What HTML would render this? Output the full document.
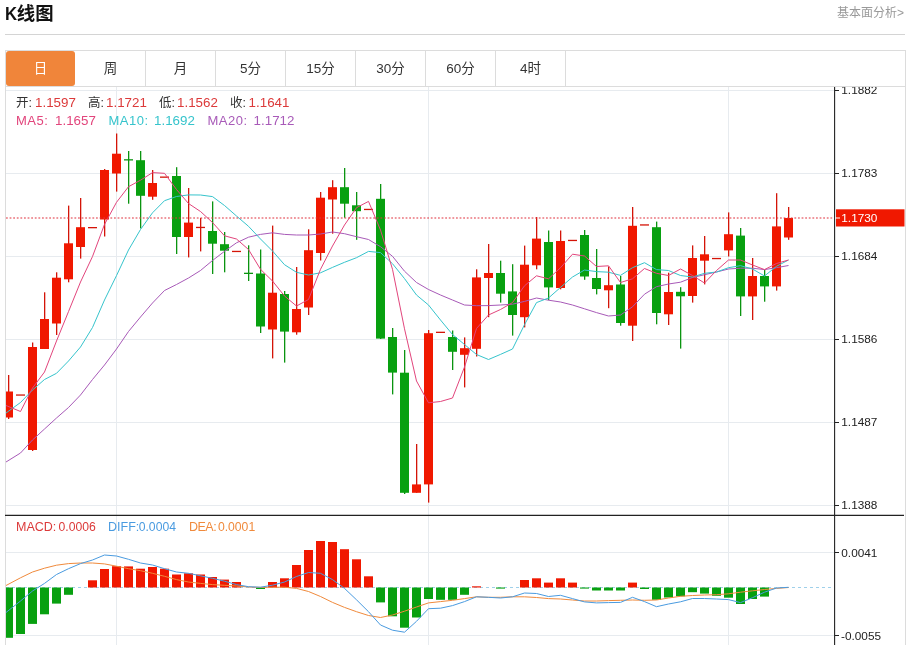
<!DOCTYPE html>
<html lang="zh-CN">
<head>
<meta charset="utf-8">
<title>K线图</title>
<style>
html,body{margin:0;padding:0;background:#fff;}
body{width:909px;height:645px;position:relative;overflow:hidden;font-family:"Liberation Sans","Noto Sans CJK SC",sans-serif;}
.title{position:absolute;left:4.2px;top:1.9px;font-size:18.4px;letter-spacing:.1px;font-weight:bold;color:#111;line-height:24px;white-space:nowrap;}
.more{position:absolute;right:5px;top:4px;font-size:12px;color:#999;line-height:18px;white-space:nowrap;}
.rule{position:absolute;left:5px;top:34px;width:900px;height:1px;background:#d4d4d4;}
.box{position:absolute;left:5px;top:50px;width:899px;height:600px;border:1px solid #dcdcdc;box-sizing:content-box;}
.tabs{position:absolute;left:6px;top:51px;width:899px;height:35px;border-bottom:1px solid #dcdcdc;}
.tab{position:absolute;top:0;width:69px;height:35px;line-height:35px;text-align:center;font-size:13.5px;color:#333;border-right:1px solid #dcdcdc;}
.tab.on{background:#f0853a;color:#fff;border-radius:3px;border-right:0;}
.chart{position:absolute;left:0;top:87px;}
.info{position:absolute;font-size:12.5px;line-height:16px;white-space:nowrap;color:#333;}
.info .n{font-size:13.35px;}
.info .l{font-size:13px;letter-spacing:.5px;}
.info .m{font-size:12.2px;}
.info span{position:absolute;top:0;}
.r{color:#dc3a3a;}
</style>
</head>
<body>
<div class="title"><span style="display:inline-block;transform:scaleX(.91);transform-origin:100% 50%;letter-spacing:-.8px">K</span>线图</div>
<div class="more">基本面分析&gt;</div>
<div class="rule"></div>
<div class="box"></div>
<div class="tabs">
<div class="tab on" style="left:0">日</div>
<div class="tab" style="left:70px">周</div>
<div class="tab" style="left:140px">月</div>
<div class="tab" style="left:210px">5分</div>
<div class="tab" style="left:280px">15分</div>
<div class="tab" style="left:350px">30分</div>
<div class="tab" style="left:420px">60分</div>
<div class="tab" style="left:490px">4时</div>
</div>
<svg class="chart" width="909" height="558" viewBox="0 87 909 558">
<g stroke="#e7ebef" stroke-width="1" shape-rendering="crispEdges">
<line x1="6" y1="90.5" x2="834" y2="90.5"/>
<line x1="6" y1="173.5" x2="834" y2="173.5"/>
<line x1="6" y1="256.5" x2="834" y2="256.5"/>
<line x1="6" y1="339.5" x2="834" y2="339.5"/>
<line x1="6" y1="422.5" x2="834" y2="422.5"/>
<line x1="6" y1="505.5" x2="834" y2="505.5"/>
<line x1="6" y1="552.5" x2="834" y2="552.5"/>
<line x1="6" y1="635.5" x2="834" y2="635.5"/>
<line x1="116.5" y1="87" x2="116.5" y2="645"/>
<line x1="428.5" y1="87" x2="428.5" y2="645"/>
<line x1="728.5" y1="87" x2="728.5" y2="645"/>
</g>
<line x1="6" y1="587.5" x2="832" y2="587.5" stroke="#9fd0ea" stroke-width="1" stroke-dasharray="3,3"/>
<g shape-rendering="crispEdges">
<rect x="8" y="375.0" width="1.3" height="44.0" fill="#d41408" shape-rendering="auto"/>
<rect x="6" y="391.5" width="7" height="26.0" fill="#f01800" shape-rendering="auto"/>
<rect x="16" y="394.4" width="9" height="1.3" fill="#d41408" shape-rendering="auto"/>
<rect x="32" y="342.5" width="1.3" height="108.5" fill="#d41408" shape-rendering="auto"/>
<rect x="28" y="347.0" width="9" height="103.0" fill="#f01800" shape-rendering="auto"/>
<rect x="44" y="292.3" width="1.3" height="56.7" fill="#d41408" shape-rendering="auto"/>
<rect x="40" y="319.0" width="9" height="30.0" fill="#f01800" shape-rendering="auto"/>
<rect x="56" y="272.3" width="1.3" height="62.7" fill="#d41408" shape-rendering="auto"/>
<rect x="52" y="277.7" width="9" height="45.8" fill="#f01800" shape-rendering="auto"/>
<rect x="68" y="205.6" width="1.3" height="76.7" fill="#d41408" shape-rendering="auto"/>
<rect x="64" y="243.3" width="9" height="36.0" fill="#f01800" shape-rendering="auto"/>
<rect x="80" y="198.0" width="1.3" height="60.6" fill="#d41408" shape-rendering="auto"/>
<rect x="76" y="227.2" width="9" height="19.8" fill="#f01800" shape-rendering="auto"/>
<rect x="88" y="227.0" width="9" height="1.3" fill="#d41408" shape-rendering="auto"/>
<rect x="104" y="169.0" width="1.3" height="67.5" fill="#d41408" shape-rendering="auto"/>
<rect x="100" y="170.0" width="9" height="49.5" fill="#f01800" shape-rendering="auto"/>
<rect x="116" y="133.5" width="1.3" height="58.1" fill="#d41408" shape-rendering="auto"/>
<rect x="112" y="153.7" width="9" height="19.8" fill="#f01800" shape-rendering="auto"/>
<rect x="128" y="151.0" width="1.3" height="52.7" fill="#0a9410" shape-rendering="auto"/>
<rect x="124" y="159.2" width="9" height="1.3" fill="#0a9410" shape-rendering="auto"/>
<rect x="140" y="151.0" width="1.3" height="77.4" fill="#0a9410" shape-rendering="auto"/>
<rect x="136" y="160.2" width="9" height="35.6" fill="#08a010" shape-rendering="auto"/>
<rect x="152" y="170.0" width="1.3" height="29.8" fill="#d41408" shape-rendering="auto"/>
<rect x="148" y="183.0" width="9" height="13.7" fill="#f01800" shape-rendering="auto"/>
<rect x="160" y="176.5" width="9" height="1.3" fill="#d41408" shape-rendering="auto"/>
<rect x="176" y="167.2" width="1.3" height="86.8" fill="#0a9410" shape-rendering="auto"/>
<rect x="172" y="176.0" width="9" height="61.0" fill="#08a010" shape-rendering="auto"/>
<rect x="188" y="188.0" width="1.3" height="69.4" fill="#d41408" shape-rendering="auto"/>
<rect x="184" y="222.6" width="9" height="14.4" fill="#f01800" shape-rendering="auto"/>
<rect x="200" y="218.0" width="1.3" height="33.4" fill="#d41408" shape-rendering="auto"/>
<rect x="196" y="226.8" width="9" height="1.3" fill="#d41408" shape-rendering="auto"/>
<rect x="212" y="201.4" width="1.3" height="72.6" fill="#0a9410" shape-rendering="auto"/>
<rect x="208" y="231.0" width="9" height="12.7" fill="#08a010" shape-rendering="auto"/>
<rect x="224" y="232.0" width="1.3" height="40.3" fill="#0a9410" shape-rendering="auto"/>
<rect x="220" y="244.2" width="9" height="6.5" fill="#08a010" shape-rendering="auto"/>
<rect x="232" y="250.8" width="9" height="1.3" fill="#d41408" shape-rendering="auto"/>
<rect x="248" y="245.3" width="1.3" height="35.7" fill="#0a9410" shape-rendering="auto"/>
<rect x="244" y="272.7" width="9" height="1.3" fill="#0a9410" shape-rendering="auto"/>
<rect x="260" y="249.5" width="1.3" height="83.5" fill="#0a9410" shape-rendering="auto"/>
<rect x="256" y="273.5" width="9" height="53.0" fill="#08a010" shape-rendering="auto"/>
<rect x="272" y="225.6" width="1.3" height="132.8" fill="#d41408" shape-rendering="auto"/>
<rect x="268" y="292.7" width="9" height="36.8" fill="#f01800" shape-rendering="auto"/>
<rect x="284" y="291.0" width="1.3" height="71.6" fill="#0a9410" shape-rendering="auto"/>
<rect x="280" y="294.0" width="9" height="37.6" fill="#08a010" shape-rendering="auto"/>
<rect x="296" y="267.0" width="1.3" height="67.7" fill="#d41408" shape-rendering="auto"/>
<rect x="292" y="309.0" width="9" height="23.3" fill="#f01800" shape-rendering="auto"/>
<rect x="308" y="229.3" width="1.3" height="85.7" fill="#d41408" shape-rendering="auto"/>
<rect x="304" y="250.2" width="9" height="57.3" fill="#f01800" shape-rendering="auto"/>
<rect x="320" y="192.0" width="1.3" height="68.5" fill="#d41408" shape-rendering="auto"/>
<rect x="316" y="197.7" width="9" height="55.3" fill="#f01800" shape-rendering="auto"/>
<rect x="332" y="180.2" width="1.3" height="53.5" fill="#d41408" shape-rendering="auto"/>
<rect x="328" y="187.2" width="9" height="12.3" fill="#f01800" shape-rendering="auto"/>
<rect x="344" y="168.0" width="1.3" height="49.7" fill="#0a9410" shape-rendering="auto"/>
<rect x="340" y="187.2" width="9" height="16.5" fill="#08a010" shape-rendering="auto"/>
<rect x="356" y="192.0" width="1.3" height="47.8" fill="#0a9410" shape-rendering="auto"/>
<rect x="352" y="205.3" width="9" height="5.9" fill="#08a010" shape-rendering="auto"/>
<rect x="364" y="208.8" width="9" height="1.3" fill="#d41408" shape-rendering="auto"/>
<rect x="380" y="184.0" width="1.3" height="155.0" fill="#0a9410" shape-rendering="auto"/>
<rect x="376" y="198.8" width="9" height="139.8" fill="#08a010" shape-rendering="auto"/>
<rect x="392" y="328.0" width="1.3" height="66.4" fill="#0a9410" shape-rendering="auto"/>
<rect x="388" y="337.0" width="9" height="35.6" fill="#08a010" shape-rendering="auto"/>
<rect x="404" y="350.0" width="1.3" height="144.0" fill="#0a9410" shape-rendering="auto"/>
<rect x="400" y="372.7" width="9" height="120.1" fill="#08a010" shape-rendering="auto"/>
<rect x="416" y="444.0" width="1.3" height="48.8" fill="#d41408" shape-rendering="auto"/>
<rect x="412" y="484.4" width="9" height="8.4" fill="#f01800" shape-rendering="auto"/>
<rect x="428" y="330.0" width="1.3" height="172.6" fill="#d41408" shape-rendering="auto"/>
<rect x="424" y="333.2" width="9" height="151.2" fill="#f01800" shape-rendering="auto"/>
<rect x="436" y="331.7" width="9" height="1.3" fill="#d41408" shape-rendering="auto"/>
<rect x="452" y="330.5" width="1.3" height="39.5" fill="#0a9410" shape-rendering="auto"/>
<rect x="448" y="337.0" width="9" height="14.8" fill="#08a010" shape-rendering="auto"/>
<rect x="464" y="337.4" width="1.3" height="50.0" fill="#d41408" shape-rendering="auto"/>
<rect x="460" y="348.2" width="9" height="6.6" fill="#f01800" shape-rendering="auto"/>
<rect x="476" y="269.3" width="1.3" height="87.2" fill="#d41408" shape-rendering="auto"/>
<rect x="472" y="277.4" width="9" height="71.4" fill="#f01800" shape-rendering="auto"/>
<rect x="488" y="244.0" width="1.3" height="73.2" fill="#d41408" shape-rendering="auto"/>
<rect x="484" y="273.0" width="9" height="5.0" fill="#f01800" shape-rendering="auto"/>
<rect x="500" y="260.7" width="1.3" height="41.9" fill="#0a9410" shape-rendering="auto"/>
<rect x="496" y="273.0" width="9" height="20.7" fill="#08a010" shape-rendering="auto"/>
<rect x="512" y="264.2" width="1.3" height="71.4" fill="#0a9410" shape-rendering="auto"/>
<rect x="508" y="291.4" width="9" height="23.6" fill="#08a010" shape-rendering="auto"/>
<rect x="524" y="245.6" width="1.3" height="81.8" fill="#d41408" shape-rendering="auto"/>
<rect x="520" y="264.7" width="9" height="52.5" fill="#f01800" shape-rendering="auto"/>
<rect x="536" y="217.0" width="1.3" height="52.3" fill="#d41408" shape-rendering="auto"/>
<rect x="532" y="238.6" width="9" height="26.7" fill="#f01800" shape-rendering="auto"/>
<rect x="548" y="230.5" width="1.3" height="69.7" fill="#0a9410" shape-rendering="auto"/>
<rect x="544" y="242.0" width="9" height="45.4" fill="#08a010" shape-rendering="auto"/>
<rect x="560" y="230.5" width="1.3" height="58.8" fill="#d41408" shape-rendering="auto"/>
<rect x="556" y="241.0" width="9" height="47.0" fill="#f01800" shape-rendering="auto"/>
<rect x="568" y="239.8" width="9" height="1.3" fill="#d41408" shape-rendering="auto"/>
<rect x="584" y="230.0" width="1.3" height="49.8" fill="#0a9410" shape-rendering="auto"/>
<rect x="580" y="235.0" width="9" height="41.5" fill="#08a010" shape-rendering="auto"/>
<rect x="596" y="249.0" width="1.3" height="45.4" fill="#0a9410" shape-rendering="auto"/>
<rect x="592" y="278.0" width="9" height="11.0" fill="#08a010" shape-rendering="auto"/>
<rect x="608" y="266.5" width="1.3" height="41.7" fill="#d41408" shape-rendering="auto"/>
<rect x="604" y="285.2" width="9" height="5.1" fill="#f01800" shape-rendering="auto"/>
<rect x="620" y="276.0" width="1.3" height="49.7" fill="#0a9410" shape-rendering="auto"/>
<rect x="616" y="284.5" width="9" height="38.5" fill="#08a010" shape-rendering="auto"/>
<rect x="632" y="207.0" width="1.3" height="134.0" fill="#d41408" shape-rendering="auto"/>
<rect x="628" y="225.8" width="9" height="99.9" fill="#f01800" shape-rendering="auto"/>
<rect x="640" y="224.3" width="9" height="1.3" fill="#d41408" shape-rendering="auto"/>
<rect x="656" y="221.6" width="1.3" height="102.7" fill="#0a9410" shape-rendering="auto"/>
<rect x="652" y="227.2" width="9" height="85.8" fill="#08a010" shape-rendering="auto"/>
<rect x="668" y="272.7" width="1.3" height="52.3" fill="#d41408" shape-rendering="auto"/>
<rect x="664" y="292.0" width="9" height="22.3" fill="#f01800" shape-rendering="auto"/>
<rect x="680" y="287.2" width="1.3" height="61.4" fill="#0a9410" shape-rendering="auto"/>
<rect x="676" y="291.8" width="9" height="4.5" fill="#08a010" shape-rendering="auto"/>
<rect x="692" y="245.4" width="1.3" height="57.2" fill="#d41408" shape-rendering="auto"/>
<rect x="688" y="258.0" width="9" height="38.0" fill="#f01800" shape-rendering="auto"/>
<rect x="704" y="236.0" width="1.3" height="48.4" fill="#d41408" shape-rendering="auto"/>
<rect x="700" y="254.3" width="9" height="6.4" fill="#f01800" shape-rendering="auto"/>
<rect x="712" y="257.9" width="9" height="1.3" fill="#d41408" shape-rendering="auto"/>
<rect x="728" y="212.4" width="1.3" height="44.1" fill="#d41408" shape-rendering="auto"/>
<rect x="724" y="234.2" width="9" height="16.2" fill="#f01800" shape-rendering="auto"/>
<rect x="740" y="228.0" width="1.3" height="88.0" fill="#0a9410" shape-rendering="auto"/>
<rect x="736" y="235.6" width="9" height="60.8" fill="#08a010" shape-rendering="auto"/>
<rect x="752" y="258.0" width="1.3" height="62.0" fill="#d41408" shape-rendering="auto"/>
<rect x="748" y="276.0" width="9" height="20.4" fill="#f01800" shape-rendering="auto"/>
<rect x="764" y="270.0" width="1.3" height="31.7" fill="#0a9410" shape-rendering="auto"/>
<rect x="760" y="276.0" width="9" height="10.4" fill="#08a010" shape-rendering="auto"/>
<rect x="776" y="193.2" width="1.3" height="97.4" fill="#d41408" shape-rendering="auto"/>
<rect x="772" y="226.4" width="9" height="60.0" fill="#f01800" shape-rendering="auto"/>
<rect x="788" y="207.0" width="1.3" height="32.8" fill="#d41408" shape-rendering="auto"/>
<rect x="784" y="218.0" width="9" height="19.5" fill="#f01800" shape-rendering="auto"/>
</g>
<g>
<rect x="6" y="587.5" width="7" height="50.3" fill="#08a010"/>
<rect x="16" y="587.5" width="9" height="46.5" fill="#08a010"/>
<rect x="28" y="587.5" width="9" height="36.4" fill="#08a010"/>
<rect x="40" y="587.5" width="9" height="26.8" fill="#08a010"/>
<rect x="52" y="587.5" width="9" height="16.1" fill="#08a010"/>
<rect x="64" y="587.5" width="9" height="7.3" fill="#08a010"/>
<rect x="88" y="580.3" width="9" height="7.2" fill="#f01800"/>
<rect x="100" y="569.0" width="9" height="18.5" fill="#f01800"/>
<rect x="112" y="566.2" width="9" height="21.3" fill="#f01800"/>
<rect x="124" y="566.4" width="9" height="21.1" fill="#f01800"/>
<rect x="136" y="568.7" width="9" height="18.8" fill="#f01800"/>
<rect x="148" y="567.0" width="9" height="20.5" fill="#f01800"/>
<rect x="160" y="568.7" width="9" height="18.8" fill="#f01800"/>
<rect x="172" y="574.5" width="9" height="13.0" fill="#f01800"/>
<rect x="184" y="573.3" width="9" height="14.2" fill="#f01800"/>
<rect x="196" y="574.5" width="9" height="13.0" fill="#f01800"/>
<rect x="208" y="577.0" width="9" height="10.5" fill="#f01800"/>
<rect x="220" y="579.6" width="9" height="7.9" fill="#f01800"/>
<rect x="232" y="582.0" width="9" height="5.5" fill="#f01800"/>
<rect x="256" y="587.5" width="9" height="1.5" fill="#08a010"/>
<rect x="268" y="582.0" width="9" height="5.5" fill="#f01800"/>
<rect x="280" y="578.3" width="9" height="9.2" fill="#f01800"/>
<rect x="292" y="565.0" width="9" height="22.5" fill="#f01800"/>
<rect x="304" y="550.0" width="9" height="37.5" fill="#f01800"/>
<rect x="316" y="541.0" width="9" height="46.5" fill="#f01800"/>
<rect x="328" y="542.0" width="9" height="45.5" fill="#f01800"/>
<rect x="340" y="549.2" width="9" height="38.3" fill="#f01800"/>
<rect x="352" y="559.3" width="9" height="28.2" fill="#f01800"/>
<rect x="364" y="576.3" width="9" height="11.2" fill="#f01800"/>
<rect x="376" y="587.5" width="9" height="14.9" fill="#08a010"/>
<rect x="388" y="587.5" width="9" height="28.8" fill="#08a010"/>
<rect x="400" y="587.5" width="9" height="40.2" fill="#08a010"/>
<rect x="412" y="587.5" width="9" height="30.0" fill="#08a010"/>
<rect x="424" y="587.5" width="9" height="11.5" fill="#08a010"/>
<rect x="436" y="587.5" width="9" height="12.3" fill="#08a010"/>
<rect x="448" y="587.5" width="9" height="12.3" fill="#08a010"/>
<rect x="460" y="587.5" width="9" height="7.3" fill="#08a010"/>
<rect x="472" y="586.3" width="9" height="1.2" fill="#f01800"/>
<rect x="496" y="587.5" width="9" height="1.1" fill="#08a010"/>
<rect x="520" y="580.0" width="9" height="7.5" fill="#f01800"/>
<rect x="532" y="578.3" width="9" height="9.2" fill="#f01800"/>
<rect x="544" y="582.6" width="9" height="4.9" fill="#f01800"/>
<rect x="556" y="578.3" width="9" height="9.2" fill="#f01800"/>
<rect x="568" y="582.6" width="9" height="4.9" fill="#f01800"/>
<rect x="580" y="587.5" width="9" height="1.1" fill="#08a010"/>
<rect x="592" y="587.5" width="9" height="3.0" fill="#08a010"/>
<rect x="604" y="587.5" width="9" height="3.0" fill="#08a010"/>
<rect x="616" y="587.5" width="9" height="3.0" fill="#08a010"/>
<rect x="628" y="582.6" width="9" height="4.9" fill="#f01800"/>
<rect x="640" y="587.5" width="9" height="1.5" fill="#08a010"/>
<rect x="652" y="587.5" width="9" height="12.3" fill="#08a010"/>
<rect x="664" y="587.5" width="9" height="10.0" fill="#08a010"/>
<rect x="676" y="587.5" width="9" height="8.8" fill="#08a010"/>
<rect x="688" y="587.5" width="9" height="4.7" fill="#08a010"/>
<rect x="700" y="587.5" width="9" height="6.1" fill="#08a010"/>
<rect x="712" y="587.5" width="9" height="8.3" fill="#08a010"/>
<rect x="724" y="587.5" width="9" height="10.2" fill="#08a010"/>
<rect x="736" y="587.5" width="9" height="16.5" fill="#08a010"/>
<rect x="748" y="587.5" width="9" height="11.5" fill="#08a010"/>
<rect x="760" y="587.5" width="9" height="9.1" fill="#08a010"/>
</g>
<polyline fill="none" stroke="#a85ab8" stroke-width="1.0" stroke-linejoin="round" points="6.0,462.0 20.5,453.0 32.5,440.0 44.5,429.0 56.5,418.0 68.5,407.5 80.5,395.0 92.5,379.5 104.5,365.0 116.5,349.0 128.5,331.5 140.5,317.0 152.5,303.0 164.5,290.5 176.5,284.5 188.5,278.0 200.5,270.5 212.5,260.5 224.5,251.3 236.5,242.8 248.5,237.2 260.5,234.4 272.5,232.8 284.5,234.4 296.5,235.0 308.5,235.0 320.5,234.0 332.5,232.0 344.5,233.7 356.5,236.7 368.5,239.5 380.5,246.7 392.5,256.3 404.5,271.2 416.5,282.5 428.5,289.5 440.5,295.0 452.5,300.0 464.5,305.0 476.5,305.7 488.5,305.6 500.5,305.0 512.5,304.2 524.5,301.4 536.5,298.0 548.5,300.2 560.5,302.0 572.5,305.0 584.5,308.8 596.5,312.6 608.5,316.0 620.5,315.0 632.5,306.8 644.5,294.2 656.5,286.7 668.5,284.0 680.5,282.2 692.5,277.5 704.5,274.7 716.5,272.0 728.5,269.0 740.5,268.2 752.5,268.2 764.5,269.6 776.5,267.7 788.5,265.5"/>
<polyline fill="none" stroke="#36c4cc" stroke-width="1.0" stroke-linejoin="round" points="6.0,413.0 20.5,402.5 32.5,390.0 44.5,379.5 56.5,373.3 68.5,361.0 80.5,347.0 92.5,327.5 104.5,300.0 116.5,275.6 128.5,250.0 140.5,229.5 152.5,212.8 164.5,200.7 176.5,196.5 188.5,194.9 200.5,195.0 212.5,196.6 224.5,205.5 236.5,216.0 248.5,226.3 260.5,239.0 272.5,251.0 284.5,264.7 296.5,272.3 308.5,275.0 320.5,272.8 332.5,267.4 344.5,262.3 356.5,257.7 368.5,251.4 380.5,252.6 392.5,263.7 404.5,278.6 416.5,295.0 428.5,305.0 440.5,320.0 452.5,334.5 464.5,344.5 476.5,354.5 488.5,359.5 500.5,354.4 512.5,349.0 524.5,324.7 536.5,302.6 548.5,298.0 560.5,287.4 572.5,277.0 584.5,270.0 596.5,271.6 608.5,272.2 620.5,275.4 632.5,267.7 644.5,262.7 656.5,269.6 668.5,270.5 680.5,275.5 692.5,277.0 704.5,273.3 716.5,272.0 728.5,267.7 740.5,265.7 752.5,269.0 764.5,276.0 776.5,266.3 788.5,260.0"/>
<polyline fill="none" stroke="#e2457c" stroke-width="1.0" stroke-linejoin="round" points="6.0,405.5 20.5,411.5 32.5,388.0 44.5,372.0 56.5,341.0 68.5,311.6 80.5,282.0 92.5,256.5 104.5,224.4 116.5,202.3 128.5,186.7 140.5,180.2 152.5,172.6 164.5,173.3 176.5,189.5 188.5,203.5 200.5,211.5 212.5,222.5 224.5,235.8 236.5,239.0 248.5,249.5 260.5,269.3 272.5,281.0 284.5,296.0 296.5,306.0 308.5,299.5 320.5,269.3 332.5,246.0 344.5,225.0 356.5,207.7 368.5,201.4 380.5,230.0 392.5,269.3 404.5,328.8 416.5,381.0 428.5,402.8 440.5,401.5 452.5,398.0 464.5,367.0 476.5,328.5 488.5,315.0 500.5,309.5 512.5,302.6 524.5,285.8 536.5,275.8 548.5,278.8 560.5,267.7 572.5,254.2 584.5,256.0 596.5,266.5 608.5,265.8 620.5,282.5 632.5,278.8 644.5,268.5 656.5,273.3 668.5,275.5 680.5,269.0 692.5,275.5 704.5,283.0 716.5,270.5 728.5,260.0 740.5,260.0 752.5,265.0 764.5,269.6 776.5,263.5 788.5,260.0"/>
<polyline fill="none" stroke="#f08a3c" stroke-width="1.0" stroke-linejoin="round" points="6.0,585.5 20.5,577.8 32.5,572.0 44.5,568.2 56.5,565.2 68.5,563.6 80.5,563.0 92.5,563.0 104.5,563.9 116.5,566.2 128.5,568.7 140.5,570.7 152.5,573.3 164.5,576.3 176.5,579.6 188.5,582.0 200.5,583.4 212.5,584.6 224.5,585.3 236.5,586.0 248.5,587.0 260.5,587.4 272.5,587.2 284.5,587.2 296.5,588.4 308.5,591.5 320.5,596.5 332.5,602.4 344.5,607.4 356.5,611.7 368.5,615.5 380.5,617.5 392.5,615.0 404.5,611.2 416.5,607.0 428.5,602.9 440.5,601.6 452.5,600.3 464.5,598.6 476.5,596.8 488.5,597.3 500.5,597.3 512.5,596.8 524.5,596.8 536.5,597.5 548.5,598.6 560.5,599.0 572.5,600.0 584.5,601.0 596.5,601.0 608.5,600.6 620.5,600.3 632.5,600.0 644.5,600.3 656.5,600.0 668.5,598.0 680.5,596.3 692.5,595.5 704.5,595.0 716.5,594.7 728.5,593.8 740.5,592.2 752.5,590.8 764.5,589.5 776.5,588.4 788.5,587.5"/>
<polyline fill="none" stroke="#4a9be0" stroke-width="1.0" stroke-linejoin="round" points="6.0,612.5 20.5,601.0 32.5,591.0 44.5,583.4 56.5,574.5 68.5,568.7 80.5,563.6 92.5,560.0 104.5,555.0 116.5,556.0 128.5,559.3 140.5,563.0 152.5,565.0 164.5,568.7 176.5,572.0 188.5,573.3 200.5,575.8 212.5,578.3 224.5,581.2 236.5,584.6 248.5,586.7 260.5,587.2 272.5,585.2 284.5,582.0 296.5,576.5 308.5,572.5 320.5,573.3 332.5,579.6 344.5,588.4 356.5,599.8 368.5,611.7 380.5,625.0 392.5,630.2 404.5,632.2 416.5,621.3 428.5,608.7 440.5,608.2 452.5,605.6 464.5,601.6 476.5,596.8 488.5,597.3 500.5,598.0 512.5,596.8 524.5,593.0 536.5,593.5 548.5,596.5 560.5,595.3 572.5,598.6 584.5,601.9 596.5,602.9 608.5,602.6 620.5,602.4 632.5,597.3 644.5,601.6 656.5,606.7 668.5,604.0 680.5,601.8 692.5,598.5 704.5,598.5 716.5,599.0 728.5,599.6 740.5,602.6 752.5,597.7 764.5,592.2 776.5,588.0 788.5,587.3"/>
<line x1="6" y1="218" x2="834" y2="218" stroke="#e0303c" stroke-width="1.2" stroke-dasharray="1.8,1.8"/>
<g stroke="#222" stroke-width="1.1">
<line x1="834.6" y1="87" x2="834.6" y2="645"/>
<line x1="5" y1="515.4" x2="904" y2="515.4" stroke-width="1.2"/>
</g>
<g stroke="#222" stroke-width="1" shape-rendering="crispEdges">
<line x1="835" y1="90.5" x2="839" y2="90.5"/>
<line x1="835" y1="173.5" x2="839" y2="173.5"/>
<line x1="835" y1="256.5" x2="839" y2="256.5"/>
<line x1="835" y1="339.5" x2="839" y2="339.5"/>
<line x1="835" y1="422.5" x2="839" y2="422.5"/>
<line x1="835" y1="505.5" x2="839" y2="505.5"/>
<line x1="835" y1="552.5" x2="839" y2="552.5"/>
<line x1="835" y1="635.5" x2="839" y2="635.5"/>
</g>
<g font-family="'Liberation Sans', sans-serif" font-size="11.8" fill="#222">
<text x="841.3" y="94.4">1.1882</text>
<text x="841.3" y="177.4">1.1783</text>
<text x="841.3" y="260.4">1.1684</text>
<text x="841.3" y="343.4">1.1586</text>
<text x="841.3" y="426.4">1.1487</text>
<text x="841.3" y="509.4">1.1388</text>
<text x="841.3" y="556.9">0.0041</text>
<text x="841" y="639.9">-0.0055</text>
</g>
<rect x="836" y="209.3" width="68.5" height="17.2" fill="#f01800"/>
<line x1="835" y1="218" x2="840" y2="218" stroke="#fff" stroke-width="1"/>
<text x="841.3" y="222.3" font-family="'Liberation Sans', sans-serif" font-size="11.8" fill="#fff">1.1730</text>
</svg>
<div class="info" style="left:0;top:95.2px;">
<span style="left:16px">开:</span><span class="r n" style="left:35px">1.1597</span>
<span style="left:88px">高:</span><span class="r n" style="left:106px">1.1721</span>
<span style="left:159px">低:</span><span class="r n" style="left:177px">1.1562</span>
<span style="left:230px">收:</span><span class="r n" style="left:248.6px">1.1641</span>
</div>
<div class="info" style="left:0;top:113.2px;">
<span class="l" style="left:16px;color:#e2457c">MA5:</span><span class="n" style="left:55px;color:#e2457c">1.1657</span>
<span class="l" style="left:108.5px;color:#36c4cc">MA10:</span><span class="n" style="left:154px;color:#36c4cc">1.1692</span>
<span class="l" style="left:207.5px;color:#a85ab8">MA20:</span><span class="n" style="left:253.6px;color:#a85ab8">1.1712</span>
</div>
<div class="info" style="left:0;top:519px;">
<span style="left:16px;color:#dc3a3a">MACD:</span><span class="m" style="left:58.6px;color:#dc3a3a">0.0006</span>
<span style="left:108px;color:#4a9be0">DIFF:</span><span class="m" style="left:138.7px;color:#4a9be0">0.0004</span>
<span style="left:189px;color:#f08a3c;letter-spacing:-.5px">DEA:</span><span class="m" style="left:217.9px;color:#f08a3c">0.0001</span>
</div>
</body>
</html>
